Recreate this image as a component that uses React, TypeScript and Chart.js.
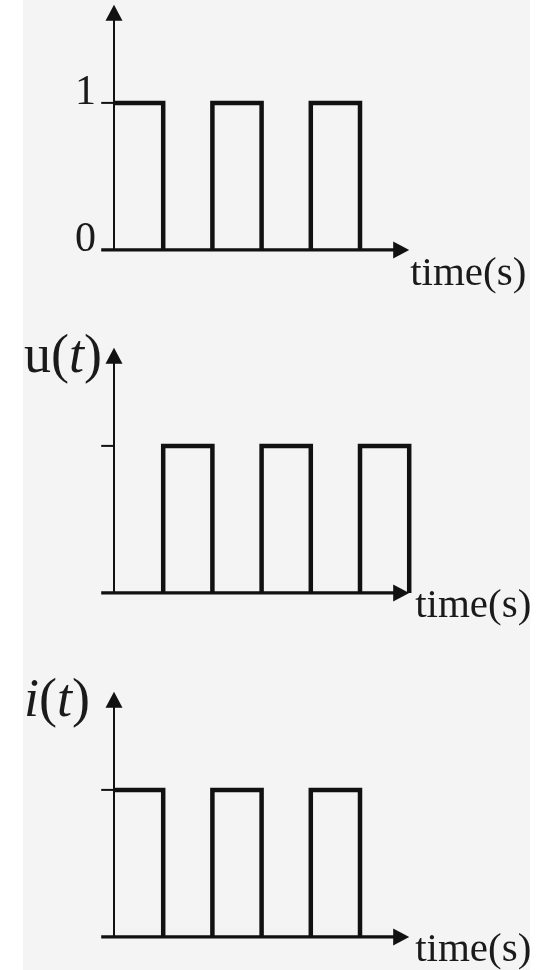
import React, { useEffect, useRef } from "react";
import { Chart, registerables } from "chart.js";

Chart.register(...registerables);

// Instants (s) where the square waves switch level
const timeSteps = [0, 1, 2, 3, 4, 5, 6];
// Reference pulse train (0/1 levels held until the next instant)
const referenceLevels = [1, 0, 1, 0, 1, 0, 0];
// Voltage u(t): same train delayed by one step
const voltageLevels = [0, 1, 0, 1, 0, 1, 0];
// Current i(t)
const currentLevels = [1, 0, 1, 0, 1, 0, 0];

// Value labels on the first panel's vertical axis
const levelTickValues = [0, 1];
const levelTickLabels = ["0", "1"];
// Level marked by a short tick on every vertical axis
const markedLevel = 1;
// Axis extents in data units
const axisStartTime = -0.26;
const axisEndTime = 6;
const axisTopValue = 1.667;
const timeAxisLabel = "time(s)";

type Run = { text: string; italic: boolean };
const voltageTitle: Run[] = [
  { text: "u", italic: false },
  { text: "(", italic: false },
  { text: "t", italic: true },
  { text: ")", italic: false },
];
const currentTitle: Run[] = [
  { text: "i", italic: true },
  { text: "(", italic: false },
  { text: "t", italic: true },
  { text: ")", italic: false },
];

const SERIF = '"Liberation Serif", "Times New Roman", "DejaVu Serif", serif';
const INK = "#111111";

// Geometry of every panel
const W = 545;
const H = 330;
const X_MIN = -0.5;
const X_MAX = 6.5;
const Y_MIN = -0.3;
const Y_MAX = 1.7;
const PX_PER_T = 49.2;
const PX_PER_LEVEL = 147;
const AXIS_X = 114;
const PAD_TOP = 10;

type PanelSpec = {
  levels: number[];
  baselineY: number;
  title?: Run[];
  ticks?: boolean;
  timeLabelOffset: [number, number];
};

const panels: PanelSpec[] = [
  { levels: referenceLevels, baselineY: 250, ticks: true, timeLabelOffset: [1, 35] },
  { levels: voltageLevels, baselineY: 593, title: voltageTitle, timeLabelOffset: [6, 24] },
  { levels: currentLevels, baselineY: 937, title: currentTitle, timeLabelOffset: [6, 24] },
];

// Turn held levels into the corner points of a square wave
function squareWave(times: number[], levels: number[]) {
  const pts: { x: number; y: number }[] = [];
  times.forEach((t, i) => {
    if (i > 0 && levels[i] !== levels[i - 1]) pts.push({ x: t, y: levels[i - 1] });
    pts.push({ x: t, y: levels[i] });
  });
  return pts;
}

function Panel({ spec }: { spec: PanelSpec }) {
  const ref = useRef<HTMLCanvasElement | null>(null);

  useEffect(() => {
    const canvas = ref.current;
    if (!canvas) return;

    const areaW = (X_MAX - X_MIN) * PX_PER_T;
    const areaH = (Y_MAX - Y_MIN) * PX_PER_LEVEL;
    const padLeft = AXIS_X + X_MIN * PX_PER_T;
    const padRight = W - padLeft - areaW;
    const padBottom = H - PAD_TOP - areaH;

    const axesPlugin = {
      id: "signalAxes",
      beforeDatasetsDraw(chart: any) {
        const ctx = chart.ctx as CanvasRenderingContext2D;
        const xs = chart.scales.x;
        const ys = chart.scales.y;
        const x0 = xs.getPixelForValue(0);
        const xStart = xs.getPixelForValue(axisStartTime);
        const xEnd = xs.getPixelForValue(axisEndTime);
        const y0 = ys.getPixelForValue(0);
        const yTop = ys.getPixelForValue(axisTopValue);
        const yMark = ys.getPixelForValue(markedLevel);
        ctx.save();
        ctx.strokeStyle = INK;
        ctx.fillStyle = INK;
        ctx.lineCap = "butt";

        // vertical axis
        ctx.lineWidth = 2;
        ctx.beginPath();
        ctx.moveTo(x0, y0);
        ctx.lineTo(x0, yTop + 10);
        ctx.stroke();
        // short tick at the marked level
        ctx.beginPath();
        ctx.moveTo(xStart, yMark);
        ctx.lineTo(x0, yMark);
        ctx.stroke();
        // time axis
        ctx.lineWidth = 3.2;
        ctx.beginPath();
        ctx.moveTo(xStart, y0);
        ctx.lineTo(xEnd - 10, y0);
        ctx.stroke();

        // arrow heads
        ctx.beginPath();
        ctx.moveTo(x0, yTop);
        ctx.lineTo(x0 - 8.5, yTop + 16);
        ctx.lineTo(x0 + 8.5, yTop + 16);
        ctx.closePath();
        ctx.fill();
        ctx.beginPath();
        ctx.moveTo(xEnd, y0);
        ctx.lineTo(xEnd - 16, y0 - 8.5);
        ctx.lineTo(xEnd - 16, y0 + 8.5);
        ctx.closePath();
        ctx.fill();
        ctx.restore();
      },
      afterDraw(chart: any) {
        const ctx = chart.ctx as CanvasRenderingContext2D;
        const xs = chart.scales.x;
        const ys = chart.scales.y;
        const x0 = xs.getPixelForValue(0);
        const xEnd = xs.getPixelForValue(axisEndTime);
        const y0 = ys.getPixelForValue(0);
        ctx.save();
        ctx.fillStyle = "#1a1a1a";
        ctx.textBaseline = "alphabetic";

        // time axis caption
        ctx.font = `41px ${SERIF}`;
        ctx.textAlign = "left";
        ctx.fillText(
          timeAxisLabel,
          xEnd + spec.timeLabelOffset[0],
          y0 + spec.timeLabelOffset[1]
        );

        // level values
        if (spec.ticks) {
          ctx.font = `42px ${SERIF}`;
          ctx.textAlign = "right";
          levelTickValues.forEach((v, i) => {
            ctx.fillText(levelTickLabels[i], x0 - 18, ys.getPixelForValue(v) + 1);
          });
        }

        // signal name, mixed upright / italic
        if (spec.title) {
          ctx.textAlign = "left";
          let x = x0 - 90;
          const y = ys.getPixelForValue(1.5);
          spec.title.forEach((run) => {
            ctx.font = `${run.italic ? "italic " : ""}54px ${SERIF}`;
            ctx.fillText(run.text, x, y);
            x += ctx.measureText(run.text).width;
          });
        }
        ctx.restore();
      },
    };

    const chart = new Chart(canvas, {
      type: "line",
      data: {
        datasets: [
          {
            data: squareWave(timeSteps, spec.levels),
            borderColor: INK,
            borderWidth: 4.5,
            borderJoinStyle: "miter",
            borderCapStyle: "butt",
            pointRadius: 0,
            fill: false,
            tension: 0,
            // stretches resting at zero sit on the time axis itself
            segment: {
              borderColor: (c: any) =>
                c.p0.parsed.y === 0 && c.p1.parsed.y === 0 ? "rgba(0,0,0,0)" : INK,
            },
          },
        ],
      },
      options: {
        responsive: false,
        animation: false,
        devicePixelRatio: 1,
        layout: {
          padding: { left: padLeft, right: padRight, top: PAD_TOP, bottom: padBottom },
        },
        plugins: {
          legend: { display: false },
          tooltip: { enabled: false },
          title: { display: false },
        },
        events: [],
        scales: {
          x: { type: "linear", min: X_MIN, max: X_MAX, display: false },
          y: { type: "linear", min: Y_MIN, max: Y_MAX, display: false },
        },
      },
      plugins: [axesPlugin],
    } as any);

    return () => chart.destroy();
  }, [spec]);

  const top = spec.baselineY - Y_MAX * PX_PER_LEVEL - PAD_TOP;
  return (
    <canvas
      ref={ref}
      width={W}
      height={H}
      style={{ position: "absolute", left: 0, top, width: W, height: H, display: "block" }}
    />
  );
}

export default function App() {
  return (
    <div
      style={{
        position: "fixed",
        left: 0,
        top: 0,
        width: W,
        height: 970,
        overflow: "hidden",
        background: "#ffffff",
      }}
    >
      <div
        style={{
          position: "absolute",
          left: 23,
          top: 0,
          width: 507,
          height: 970,
          background: "#f4f4f4",
        }}
      />
      {panels.map((p, i) => (
        <Panel key={i} spec={p} />
      ))}
    </div>
  );
}
